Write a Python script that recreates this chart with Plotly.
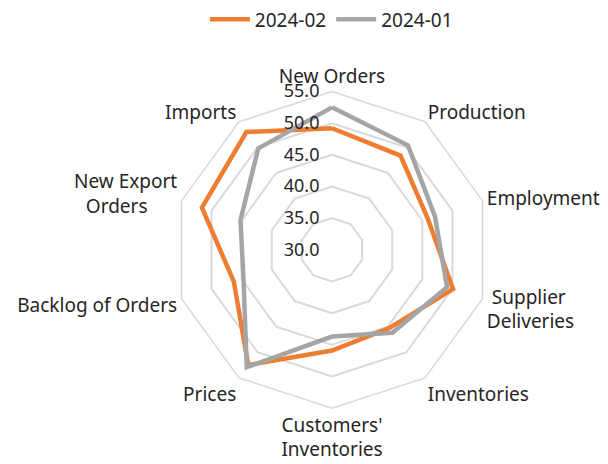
import plotly.graph_objects as go

# ISM manufacturing sub-indices
categories = ["New Orders", "Production", "Employment", "Supplier Deliveries",
              "Inventories", "Customers' Inventories", "Prices",
              "Backlog of Orders", "New Export Orders", "Imports"]
category_labels = ["New Orders", "Production", "Employment",
                   "\u00a0Supplier<br>Deliveries", "Inventories",
                   "Customers'<br>Inventories", "Prices", "Backlog of Orders",
                   "New Export<br>Orders\u00a0\u00a0\u00a0\u00a0\u00a0\u00a0", "Imports"]
feb_2024 = [49.2, 48.4, 45.9, 50.1, 45.3, 45.9, 52.5, 46.3, 51.6, 53.0]
jan_2024 = [52.5, 50.4, 47.1, 49.1, 46.2, 43.7, 52.9, 44.7, 45.2, 49.8]
radial_ticks = [30, 35, 40, 45, 50, 55]
radial_labels = ["30.0", "35.0", "40.0", "45.0", "50.0", "55.0"]

FONT = "Noto Sans"
TEXT = "#262626"
GRID = "#d9d9d9"


def closed(values):
    return list(values) + [values[0]]


fig = go.Figure()
fig.add_trace(go.Scatterpolar(
    r=closed(feb_2024), theta=closed(categories), mode="lines",
    name="2024-02", line=dict(color="#ED7D31", width=4.5),
))
fig.add_trace(go.Scatterpolar(
    r=closed(jan_2024), theta=closed(categories), mode="lines",
    name="2024-01", line=dict(color="#A5A5A5", width=4.5),
))

fig.update_layout(
    width=608, height=464,
    margin=dict(l=0, r=0, t=0, b=0),
    paper_bgcolor="white",
    font=dict(family=FONT, size=18, color=TEXT),
    showlegend=True,
    legend=dict(orientation="h", x=0.545, xanchor="center", y=1.01, yanchor="top",
                font=dict(size=19, color=TEXT), itemwidth=40),
    polar=dict(
        domain=dict(x=[0.2829, 0.8092], y=[0.1218, 0.8115]),
        bgcolor="white",
        gridshape="linear",
        radialaxis=dict(
            range=[30, 55], tickvals=radial_ticks,
            ticktext=[t + "\u00a0\u00a0" for t in radial_labels],
            angle=90, tickangle=90, showline=False, ticks="",
            showgrid=True, gridcolor=GRID, gridwidth=1.5,
            tickfont=dict(size=18, color=TEXT), side="counterclockwise",
        ),
        angularaxis=dict(
            rotation=90, direction="clockwise",
            tickmode="array", tickvals=categories, ticktext=category_labels,
            showgrid=False, showline=True, linecolor=GRID, linewidth=1.5,
            ticks="", tickfont=dict(size=19, color=TEXT),
        ),
    ),
)

fig.write_html("out.html")
